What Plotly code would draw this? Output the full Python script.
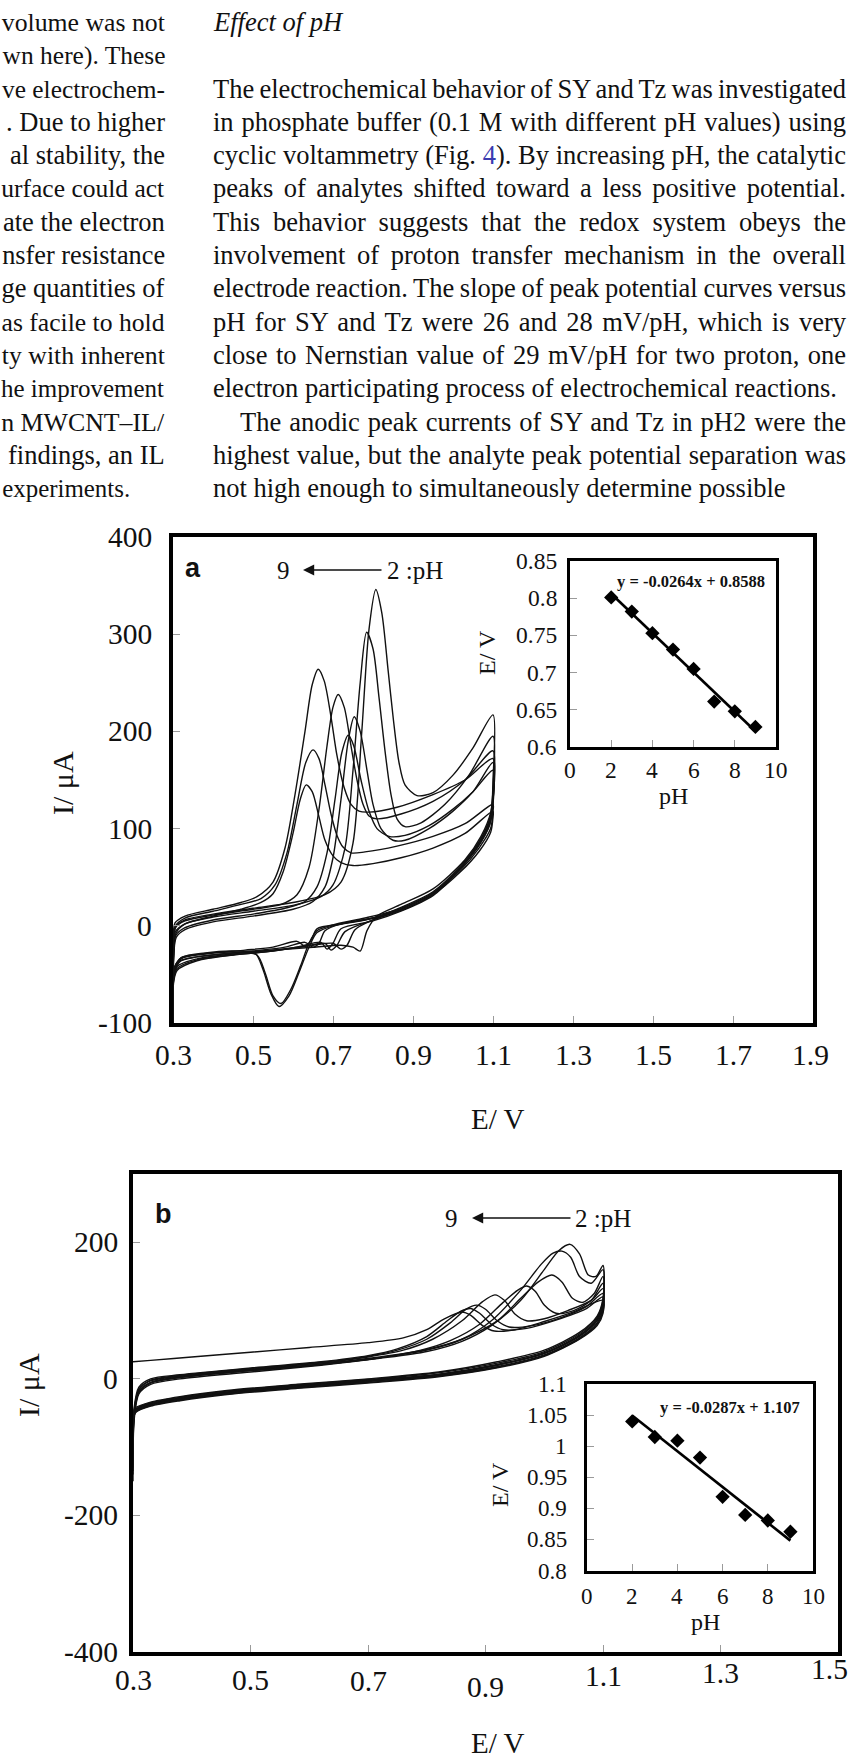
import json
import plotly.graph_objects as go

W, H = 851, 1760

# ---------------- page text ----------------
left_col = [
    "volume was not", "wn here). These", "ve electrochem-", ". Due to higher",
    "al stability, the", "urface could act", "ate the electron", "nsfer resistance",
    "ge quantities of", "as facile to hold", "ty with inherent", "he improvement",
    "n MWCNT–IL/", "findings, an IL", "experiments.",
]
right_col = [
    "",
    "",
    "The electrochemical behavior of SY and Tz was investigated",
    "in phosphate buffer (0.1 M with different pH values) using",
    "cyclic voltammetry (Fig. <span style='color:#3b3bb0'>4</span>). By increasing pH, the catalytic",
    "peaks of analytes shifted toward a less positive potential.",
    "This behavior suggests that the redox system obeys the",
    "involvement of proton transfer mechanism in the overall",
    "electrode reaction. The slope of peak potential curves versus",
    "pH for SY and Tz were 26 and 28 mV/pH, which is very",
    "close to Nernstian value of 29 mV/pH for two proton, one",
    "electron participating process of electrochemical reactions.",
    "The anodic peak currents of SY and Tz in pH2 were the",
    "highest value, but the analyte peak potential separation was",
    "not high enough to simultaneously determine possible",
]
heading = "Effect of pH"
paragraph_end_lines = {11, 14}
indented_lines = {12}

# ---------------- Fig. a : SY ----------------
cv_a_ph2 = [(0.300, -100), (0.301, -30), (0.306, -2), (0.33, 6), (0.40, 12), (0.50, 18), (0.60, 24),
            (0.68, 32), (0.72, 45), (0.75, 85), (0.772, 200), (0.79, 305), (0.807, 346), (0.822, 322),
            (0.838, 262), (0.851, 212), (0.865, 168), (0.88, 145), (0.91, 134), (0.95, 137), (1.00, 155),
            (1.05, 183), (1.10, 217),
            (1.10, 150), (1.095, 118), (1.07, 92), (1.03, 68), (0.95, 38), (0.87, 22), (0.81, 10),
            (0.785, -5), (0.768, -26), (0.75, -22), (0.72, -20), (0.65, -22), (0.55, -25), (0.45, -28),
            (0.36, -32), (0.31, -38), (0.30, -55)]
cv_a_ph3 = [(0.300, -100), (0.301, -35), (0.307, -8), (0.33, 2), (0.40, 9), (0.50, 15), (0.60, 21),
            (0.67, 30), (0.70, 42), (0.73, 80), (0.75, 160), (0.768, 250), (0.784, 302), (0.80, 285),
            (0.815, 235), (0.83, 180), (0.845, 135), (0.86, 110), (0.88, 102), (0.92, 106), (0.98, 125),
            (1.04, 155), (1.10, 195),
            (1.10, 140), (1.093, 112), (1.065, 86), (1.02, 60), (0.95, 33), (0.87, 17), (0.80, 6),
            (0.755, -4), (0.735, -20), (0.72, -24), (0.70, -18), (0.65, -20), (0.55, -25), (0.45, -29),
            (0.36, -34), (0.31, -42), (0.30, -60)]
cv_a_ph4 = [(0.300, -100), (0.301, -40), (0.308, -12), (0.33, -4), (0.40, 4), (0.50, 10), (0.60, 17),
            (0.65, 25), (0.68, 40), (0.70, 70), (0.72, 130), (0.738, 190), (0.753, 215), (0.768, 200),
            (0.785, 160), (0.80, 125), (0.82, 100), (0.85, 88), (0.88, 88), (0.94, 100), (1.00, 118),
            (1.05, 138), (1.10, 168),
            (1.10, 128), (1.092, 105), (1.06, 80), (1.01, 56), (0.95, 32), (0.87, 16), (0.80, 6),
            (0.73, -6), (0.71, -20), (0.695, -25), (0.68, -18), (0.62, -22), (0.55, -26), (0.45, -30),
            (0.36, -36), (0.31, -46), (0.30, -65)]
cv_a_ph5 = [(0.300, -100), (0.301, -38), (0.307, -10), (0.33, -2), (0.40, 6), (0.50, 12), (0.58, 18),
            (0.63, 25), (0.66, 40), (0.685, 75), (0.705, 130), (0.722, 178), (0.738, 196), (0.752, 185),
            (0.77, 150), (0.79, 118), (0.81, 100), (0.84, 92), (0.88, 93), (0.94, 103), (1.00, 120),
            (1.05, 138), (1.10, 160),
            (1.10, 125), (1.092, 104), (1.06, 80), (1.01, 55), (0.95, 31), (0.87, 15), (0.80, 5),
            (0.72, -3), (0.70, -18), (0.685, -24), (0.67, -17), (0.62, -21), (0.55, -26), (0.45, -30),
            (0.36, -35), (0.31, -44), (0.30, -62)]
cv_a_ph6 = [(0.300, -100), (0.301, -30), (0.306, -2), (0.33, 5), (0.40, 11), (0.50, 17), (0.57, 22),
            (0.61, 32), (0.64, 60), (0.665, 120), (0.685, 185), (0.70, 225), (0.713, 238), (0.728, 225),
            (0.745, 185), (0.76, 150), (0.775, 125), (0.79, 113), (0.81, 110), (0.87, 115), (0.95, 128),
            (1.03, 150), (1.10, 180),
            (1.10, 135), (1.093, 110), (1.065, 86), (1.02, 62), (0.95, 35), (0.87, 19), (0.80, 8),
            (0.72, 2), (0.68, -5), (0.665, -18), (0.65, -22), (0.63, -17), (0.58, -22), (0.50, -26),
            (0.40, -30), (0.32, -36), (0.30, -50)]
cv_a_ph7 = [(0.300, -100), (0.301, -25), (0.305, 3), (0.33, 10), (0.40, 17), (0.47, 24), (0.51, 30),
            (0.55, 45), (0.58, 80), (0.605, 135), (0.63, 200), (0.648, 248), (0.663, 264), (0.678, 252),
            (0.695, 215), (0.71, 175), (0.728, 142), (0.745, 125), (0.765, 118), (0.79, 117), (0.86, 122),
            (0.95, 135), (1.03, 150), (1.10, 172),
            (1.10, 130), (1.093, 108), (1.065, 84), (1.02, 60), (0.95, 34), (0.87, 18), (0.80, 8),
            (0.72, 2), (0.66, -3), (0.645, -15), (0.63, -21), (0.61, -16), (0.55, -22), (0.48, -25),
            (0.40, -28), (0.32, -33), (0.30, -45)]
cv_a_ph8 = [(0.300, -100), (0.301, -28), (0.306, 0), (0.33, 8), (0.40, 15), (0.47, 22), (0.52, 28),
            (0.555, 42), (0.585, 75), (0.61, 125), (0.632, 168), (0.65, 181), (0.665, 172), (0.68, 145),
            (0.695, 115), (0.71, 93), (0.725, 81), (0.745, 75), (0.78, 76), (0.86, 82), (0.95, 92),
            (1.03, 105), (1.10, 125),
            (1.10, 118), (1.094, 100), (1.065, 80), (1.02, 58), (0.95, 34), (0.87, 18), (0.78, 8),
            (0.70, 1), (0.66, -5), (0.64, -18), (0.62, -40), (0.595, -65), (0.57, -80), (0.55, -72),
            (0.53, -48), (0.51, -30), (0.45, -27), (0.38, -29), (0.32, -34), (0.30, -50)]
cv_a_ph9 = [(0.300, -100), (0.301, -32), (0.306, -6), (0.33, 2), (0.40, 10), (0.47, 17), (0.52, 24),
            (0.55, 33), (0.575, 55), (0.60, 95), (0.618, 130), (0.633, 145), (0.648, 138), (0.665, 112),
            (0.68, 88), (0.70, 72), (0.72, 65), (0.75, 62), (0.80, 64), (0.87, 70), (0.95, 80),
            (1.03, 95), (1.10, 118),
            (1.10, 112), (1.094, 96), (1.066, 77), (1.02, 56), (0.95, 32), (0.87, 16), (0.78, 6),
            (0.70, 0), (0.66, -7), (0.64, -22), (0.615, -48), (0.59, -72), (0.565, -83), (0.545, -70),
            (0.525, -45), (0.505, -28), (0.45, -26), (0.38, -28), (0.32, -33), (0.30, -48)]

ph_values = [2, 3, 4, 5, 6, 7, 8, 9]
ep_a = [0.801, 0.782, 0.753, 0.731, 0.705, 0.661, 0.648, 0.627]
fit_a = (-0.0264, 0.8588)

# ---------------- Fig. b : Tz ----------------
cv_b_ph2 = [(0.300, -150), (0.302, -60), (0.31, -22), (0.33, -8), (0.38, 0), (0.50, 10), (0.62, 20),
            (0.72, 30), (0.80, 40), (0.86, 55), (0.91, 78), (0.96, 115), (1.00, 160), (1.025, 188),
            (1.044, 197), (1.06, 183), (1.075, 152), (1.088, 150), (1.10, 166),
            (1.10, 118), (1.09, 92), (1.06, 68), (1.00, 42), (0.92, 25), (0.82, 10), (0.70, 0),
            (0.58, -8), (0.46, -17), (0.38, -26), (0.33, -34), (0.305, -42), (0.30, -50)]
cv_b_ph3 = [(0.300, -140), (0.302, -55), (0.31, -20), (0.33, -6), (0.38, 2), (0.50, 12), (0.62, 21),
            (0.72, 31), (0.80, 42), (0.86, 58), (0.91, 85), (0.96, 130), (0.995, 168), (1.015, 184),
            (1.03, 187), (1.045, 178), (1.06, 150), (1.08, 140), (1.10, 160),
            (1.10, 115), (1.09, 90), (1.06, 66), (1.00, 40), (0.92, 23), (0.82, 9), (0.70, -1),
            (0.58, -9), (0.46, -18), (0.38, -27), (0.33, -35), (0.305, -44), (0.30, -52)]
cv_b_ph4 = [(0.300, -130), (0.302, -50), (0.31, -18), (0.33, -5), (0.38, 3), (0.50, 13), (0.62, 22),
            (0.72, 32), (0.80, 43), (0.86, 58), (0.92, 85), (0.96, 118), (0.99, 142), (1.013, 152),
            (1.03, 142), (1.048, 118), (1.065, 112), (1.085, 125), (1.10, 150),
            (1.10, 112), (1.09, 88), (1.06, 64), (1.00, 38), (0.92, 21), (0.82, 7), (0.70, -2),
            (0.58, -10), (0.46, -19), (0.38, -28), (0.33, -36), (0.305, -45), (0.30, -55)]
cv_b_ph5 = [(0.300, -135), (0.302, -52), (0.31, -19), (0.33, -6), (0.38, 2), (0.50, 12), (0.62, 21),
            (0.72, 31), (0.79, 42), (0.84, 56), (0.89, 80), (0.93, 112), (0.955, 130), (0.97, 136),
            (0.985, 128), (1.00, 108), (1.02, 96), (1.05, 100), (1.08, 115), (1.10, 140),
            (1.10, 108), (1.09, 86), (1.06, 63), (1.00, 38), (0.92, 20), (0.82, 6), (0.70, -3),
            (0.58, -11), (0.46, -20), (0.38, -29), (0.33, -37), (0.305, -46), (0.30, -56)]
cv_b_ph6 = [(0.300, -125), (0.302, -48), (0.31, -16), (0.33, -3), (0.38, 4), (0.50, 14), (0.62, 23),
            (0.70, 32), (0.76, 42), (0.81, 58), (0.86, 85), (0.895, 113), (0.916, 123), (0.932, 115),
            (0.95, 95), (0.97, 85), (1.00, 88), (1.04, 100), (1.08, 115), (1.10, 132),
            (1.10, 106), (1.09, 85), (1.06, 62), (1.00, 37), (0.92, 20), (0.82, 6), (0.70, -3),
            (0.58, -11), (0.46, -20), (0.38, -29), (0.33, -37), (0.305, -46), (0.30, -55)]
cv_b_ph7 = [(0.300, -120), (0.302, -46), (0.31, -15), (0.33, -2), (0.38, 5), (0.50, 15), (0.62, 24),
            (0.70, 33), (0.75, 42), (0.80, 58), (0.84, 82), (0.867, 102), (0.885, 108), (0.90, 102),
            (0.92, 85), (0.94, 76), (0.98, 78), (1.03, 90), (1.07, 105), (1.10, 125),
            (1.10, 102), (1.09, 82), (1.06, 60), (1.00, 35), (0.92, 18), (0.82, 5), (0.70, -4),
            (0.58, -12), (0.46, -21), (0.38, -30), (0.33, -38), (0.305, -47), (0.30, -56)]
cv_b_ph8 = [(0.300, -110), (0.302, -42), (0.31, -12), (0.33, 0), (0.38, 6), (0.50, 16), (0.62, 25),
            (0.70, 34), (0.75, 44), (0.80, 62), (0.835, 85), (0.858, 99), (0.875, 103), (0.89, 96),
            (0.91, 80), (0.93, 72), (0.97, 74), (1.02, 86), (1.07, 102), (1.10, 120),
            (1.10, 100), (1.09, 80), (1.06, 59), (1.00, 34), (0.92, 17), (0.82, 4), (0.70, -5),
            (0.58, -13), (0.46, -22), (0.38, -31), (0.33, -39), (0.305, -48), (0.30, -58)]
cv_b_ph9 = [(0.300, 25), (0.33, 27), (0.40, 32), (0.50, 39), (0.60, 46), (0.70, 53), (0.76, 60),
            (0.80, 72), (0.83, 88), (0.86, 98), (0.875, 93), (0.895, 78), (0.915, 70), (0.95, 72),
            (1.00, 84), (1.05, 98), (1.10, 115),
            (1.10, 96), (1.09, 78), (1.06, 58), (1.00, 33), (0.92, 16), (0.82, 3), (0.70, -6),
            (0.58, -14), (0.46, -23), (0.38, -32), (0.33, -40), (0.305, -49), (0.30, -60)]

ep_b = [1.040, 1.015, 1.009, 0.982, 0.919, 0.890, 0.881, 0.863]
fit_b = (-0.0287, 1.107)

# axis ticks
xa_ticks = [0.3, 0.5, 0.7, 0.9, 1.1, 1.3, 1.5, 1.7, 1.9]
ya_ticks = [-100, 0, 100, 200, 300, 400]
xb_ticks = [0.3, 0.5, 0.7, 0.9, 1.1, 1.3, 1.5]
yb_ticks = [-400, -200, 0, 200]
ph_ticks = [0, 2, 4, 6, 8, 10]
ins_a_ticks = [0.6, 0.65, 0.7, 0.75, 0.8, 0.85]
ins_b_ticks = [0.8, 0.85, 0.9, 0.95, 1.0, 1.05, 1.1]

# ---------------- helpers ----------------
SERIF = "Liberation Serif"
SANS = "Liberation Sans"
INK = "#111111"


def fx(x):
    return x / W


def fy(y):
    return 1 - y / H


annotations = []


def note(text, x, y, size, xanchor="center", yanchor="middle", angle=0, family=SERIF,
         color=INK, xref="paper", yref="paper", align="center", xshift=0):
    annotations.append(dict(
        text=text,
        x=fx(x) if xref == "paper" else x,
        y=fy(y) if yref == "paper" else y,
        xref=xref, yref=yref, xanchor=xanchor, yanchor=yanchor, align=align, xshift=xshift,
        showarrow=False, textangle=angle, borderpad=0, borderwidth=0,
        font=dict(family=family, size=size, color=color)))
    return len(annotations) - 1


BODY = 26.5
LINE0, PITCH = 22, 33.3
COL_L, COL_R = 213, 846

# left column: right-aligned line ends, kept inside the page
fit_lines = []
for k, line in enumerate(left_col):
    right = 130 if k == len(left_col) - 1 else 165
    idx = note(line, right, LINE0 + PITCH * k, BODY, xanchor="right", align="right")
    fit_lines.append([idx, right - 2])

# right column; justified lines get their word spacing set once the text is measured
justify = []
note("<i>%s</i>" % heading, COL_L, LINE0, BODY, xanchor="left", align="left")
for k, line in enumerate(right_col):
    if not line:
        continue
    x0 = COL_L + (27 if k in indented_lines else 0)
    idx = note(line, x0, LINE0 + PITCH * k, BODY, xanchor="left", align="left")
    if k not in paragraph_end_lines:
        justify.append([idx, COL_R - x0])

# ---------------- figure ----------------
fig = go.Figure()

curve_line = dict(color=INK, width=1.4, shape="spline", smoothing=0.8)
for cv in [cv_a_ph2, cv_a_ph3, cv_a_ph4, cv_a_ph5, cv_a_ph6, cv_a_ph7, cv_a_ph8, cv_a_ph9]:
    fig.add_trace(go.Scatter(x=[p[0] for p in cv], y=[p[1] for p in cv], mode="lines",
                             line=curve_line, xaxis="x", yaxis="y", hoverinfo="skip", showlegend=False))
for cv in [cv_b_ph2, cv_b_ph3, cv_b_ph4, cv_b_ph5, cv_b_ph6, cv_b_ph7, cv_b_ph8, cv_b_ph9]:
    fig.add_trace(go.Scatter(x=[p[0] for p in cv], y=[p[1] for p in cv], mode="lines",
                             line=curve_line, xaxis="x3", yaxis="y3", hoverinfo="skip", showlegend=False))

# peak potential vs pH insets with their linear fits
for ep, (slope, icpt), xa, ya in [(ep_a, fit_a, "x2", "y2"), (ep_b, fit_b, "x4", "y4")]:
    ends = [ph_values[0], ph_values[-1]]
    fig.add_trace(go.Scatter(x=ends, y=[slope * v + icpt for v in ends], mode="lines",
                             line=dict(color="black", width=2.6), xaxis=xa, yaxis=ya,
                             hoverinfo="skip", showlegend=False))
    fig.add_trace(go.Scatter(x=ph_values, y=ep, mode="markers",
                             marker=dict(symbol="diamond", size=11, color="black"),
                             xaxis=xa, yaxis=ya, hoverinfo="skip", showlegend=False))


def axis(domain, rng, tickvals, anchor, lw=3.5):
    return dict(domain=domain, range=rng, tickvals=tickvals, showticklabels=False,
                showline=True, mirror=True, linewidth=lw, linecolor="black",
                ticks="inside", ticklen=7, tickwidth=1, tickcolor="#9a9a9a",
                showgrid=False, zeroline=False, anchor=anchor, fixedrange=True)


fig.update_layout(
    width=W, height=H, autosize=False, margin=dict(l=0, r=0, t=0, b=0),
    paper_bgcolor="white", plot_bgcolor="white", hovermode=False, showlegend=False,
    xaxis=axis([173 / W, 813 / W], [0.3, 1.9], xa_ticks, "y"),
    yaxis=axis([1 - 1023 / H, 1 - 537 / H], [-100, 400], ya_ticks, "x"),
    xaxis2=axis([570 / W, 776 / W], [0, 10], ph_ticks, "y2", lw=3),
    yaxis2=axis([1 - 747 / H, 1 - 561 / H], [0.6, 0.85], ins_a_ticks, "x2", lw=3),
    xaxis3=axis([133 / W, 838 / W], [0.3, 1.5], xb_ticks, "y3"),
    yaxis3=axis([1 - 1652 / H, 1 - 1174 / H], [-400, 300], yb_ticks, "x3"),
    xaxis4=axis([587 / W, 813 / W], [0, 10], ph_ticks, "y4", lw=3),
    yaxis4=axis([1 - 1571 / H, 1 - 1384 / H], [0.8, 1.1], ins_b_ticks, "x4", lw=3),
)

# tick labels placed on the axes' own scales
for i, v in enumerate(xa_ticks):
    note("%.1f" % v, v, 1055, 29.5, xref="x", xshift=-3 if i == len(xa_ticks) - 1 else 0)
for v in ya_ticks:
    note("%g" % v, 152, v, 29.5, xanchor="right", yref="y")
b_label_drop = [0, 0, 1, 7, -4, -7, -11]          # the scanned axis labels sit unevenly
for i, (v, d) in enumerate(zip(xb_ticks, b_label_drop)):
    note("%.1f" % v, v, 1680 + d, 29.5, xref="x3", xshift=-9 if i == len(xb_ticks) - 1 else 0)
for v in yb_ticks:
    note("%g" % v, 118, v, 29.5, xanchor="right", yref="y3")
for v in ph_ticks:
    note("%g" % v, v, 770, 23.5, xref="x2")
    note("%g" % v, v, 1596, 23, xref="x4")
for v in ins_a_ticks:
    note("%g" % v, 557, v, 23.5, xanchor="right", yref="y2")
for v in ins_b_ticks:
    note("%g" % v, 567, v, 23, xanchor="right", yref="y4")

# panel letters, pH direction arrows, axis titles
note("<b>a</b>", 193, 568, 27, family=SANS)
note("<b>b</b>", 163, 1214, 27, family=SANS)

for nine_x, head_x, tail_x, label_x, yy in [(283, 303, 383, 387, 570), (452, 472, 572, 575, 1218)]:
    note("9", nine_x, yy, 25)
    note("2 :pH", label_x, yy, 25, xanchor="left")
    annotations.append(dict(x=fx(head_x), y=fy(yy), xref="paper", yref="paper", text="",
                            showarrow=True, ax=tail_x - head_x, ay=0, axref="pixel", ayref="pixel",
                            arrowhead=2, arrowsize=1.6, arrowwidth=1.4, arrowcolor=INK, standoff=0))

note("E/ V", 497, 1119, 29)
note("E/ V", 497, 1743, 29)
note("I/ μA", 63, 783, 30, angle=-90)
note("I/ μA", 28, 1385, 30, angle=-90)

note("pH", 673, 796, 24)
note("E/ V", 487, 653, 24, angle=-90)
note("pH", 705, 1622, 24)
note("E/ V", 500, 1485, 24, angle=-90)

note("<b>y = %gx + %g</b>" % fit_a, 691, 581, 16.5)
note("<b>y = %gx + %g</b>" % fit_b, 730, 1407, 16.5)

fig.update_layout(annotations=annotations)

# body text: justify the column lines, and keep the cut-off column inside the page
text_js = """
var gd = document.getElementById('{plot_id}');
var justify = %s;
var fit = %s;
function textOf(i) {
  var g = gd.querySelector('g.annotation[data-index="' + i + '"]');
  return g ? g.querySelector('text.annotation-text') : null;
}
fit.forEach(function(item) {
  var el = textOf(item[0]);
  if (!el) { return; }
  var w = el.getComputedTextLength();
  if (w > item[1]) {
    var fs = parseFloat(window.getComputedStyle(el).fontSize);
    el.style.fontSize = (fs * item[1] / w) + 'px';
  }
});
justify.forEach(function(item) {
  var el = textOf(item[0]);
  if (!el) { return; }
  var gaps = (el.textContent.match(/[ \\u00a0]/g) || []).length;
  if (!gaps) { return; }
  var w = el.getComputedTextLength();
  var ws = (item[1] - w) / gaps;
  if (ws < -2) {
    var fs = parseFloat(window.getComputedStyle(el).fontSize);
    el.style.fontSize = (fs * (item[1] + 2 * gaps) / w) + 'px';
    w = el.getComputedTextLength();
    ws = (item[1] - w) / gaps;
  }
  el.style.wordSpacing = ws + 'px';
});
""" % (json.dumps(justify), json.dumps(fit_lines))

fig.write_html("out.html", config={"displayModeBar": False}, post_script=text_js)
